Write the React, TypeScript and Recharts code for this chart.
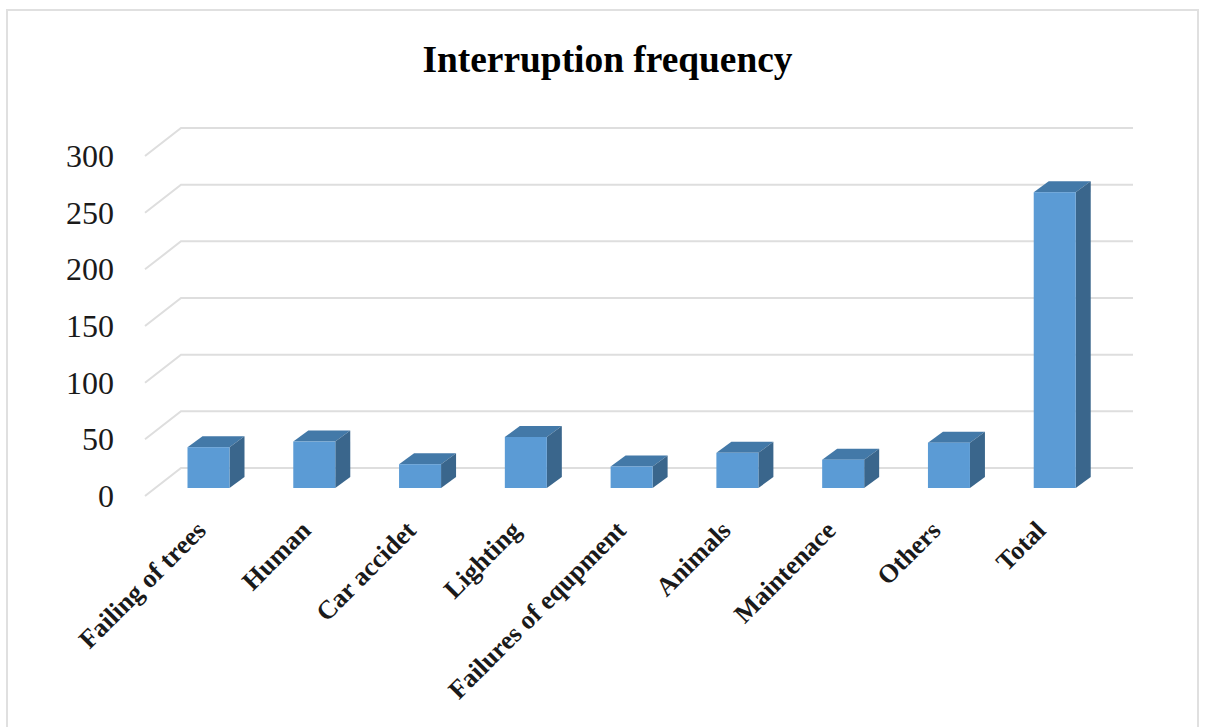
import React from "react";
import { BarChart, Bar, XAxis, YAxis, CartesianGrid } from "recharts";

const categories = ["Failing of trees", "Human", "Car accidet", "Lighting", "Failures of equpment", "Animals", "Maintenace", "Others", "Total"];
const frequency = [36, 41, 21, 45, 19, 31, 25, 40, 261];
const yTicks = [0, 50, 100, 150, 200, 250, 300];
const rows = categories.map((name, i) => ({ name, value: frequency[i] }));

const SERIF = "'Liberation Serif', serif";
const WALL_DX = 33;
const WALL_DY = 23;

function Grid3D(p: any) {
  const y = p.y1;
  return (
    <polyline
      key={p.key ?? y}
      points={`${p.x1 - 3},${y + 5} ${p.x1 + WALL_DX},${y - WALL_DY} ${p.x2 + WALL_DX},${y - WALL_DY}`}
      fill="none"
      stroke="#dedede"
      strokeWidth={2}
    />
  );
}

function Bar3D(p: any) {
  const x = p.x + 7.5;
  const y = p.y - 3;
  const w = p.width;
  const h = p.height;
  const dx = 15;
  const dy = 11;
  return (
    <g>
      <polygon points={`${x},${y} ${x + dx},${y - dy} ${x + w + dx},${y - dy} ${x + w},${y}`} fill="#4379A8" />
      <polygon points={`${x + w},${y} ${x + w + dx},${y - dy} ${x + w + dx},${y + h - dy} ${x + w},${y + h}`} fill="#3A668C" />
      <rect x={x} y={y} width={w} height={h} fill="#5B9BD5" />
    </g>
  );
}

function XTick(p: any) {
  const { x, y, payload, index } = p;
  return (
    <text
      transform={`translate(${x + 6.5 - index * 0.8},${y + 33}) rotate(-45)`}
      textAnchor="end"
      fontFamily={SERIF}
      fontSize={26.2}
      fontWeight="bold"
      fill="#1a1a1a"
    >
      {payload.value}
    </text>
  );
}

function YTick(p: any) {
  const { y, payload } = p;
  return (
    <text x={114} y={y + 16} textAnchor="end" fontFamily={SERIF} fontSize={32} fill="#1a1a1a">
      {payload.value}
    </text>
  );
}

export default function App() {
  return (
    <div style={{ position: "absolute", left: 0, top: 0, width: 1209, height: 727, background: "#fff", overflow: "hidden" }}>
      <div style={{ position: "absolute", left: 6, top: 9, width: 1193, height: 730, border: "2px solid #e0e0e0", boxSizing: "border-box" }} />
      <div style={{ position: "absolute", left: 0, top: 39, width: 1215, textAlign: "center", fontFamily: SERIF, fontWeight: "bold", fontSize: 37.4, lineHeight: "42px", color: "#000" }}>
        Interruption frequency
      </div>
      <div style={{ position: "absolute", left: 0, top: 0 }}>
        <BarChart width={1209} height={727} data={rows} margin={{ top: 151, right: 109, bottom: 0, left: 0 }} barCategoryGap={0}>
          <CartesianGrid vertical={false} horizontal={Grid3D} />
          <XAxis dataKey="name" height={236} axisLine={false} tickLine={false} tick={XTick} interval={0} />
          <YAxis width={148} domain={[0, 300]} ticks={yTicks} axisLine={false} tickLine={false} tick={YTick} />
          <Bar dataKey="value" barSize={42} isAnimationActive={false} shape={Bar3D} />
        </BarChart>
      </div>
    </div>
  );
}
